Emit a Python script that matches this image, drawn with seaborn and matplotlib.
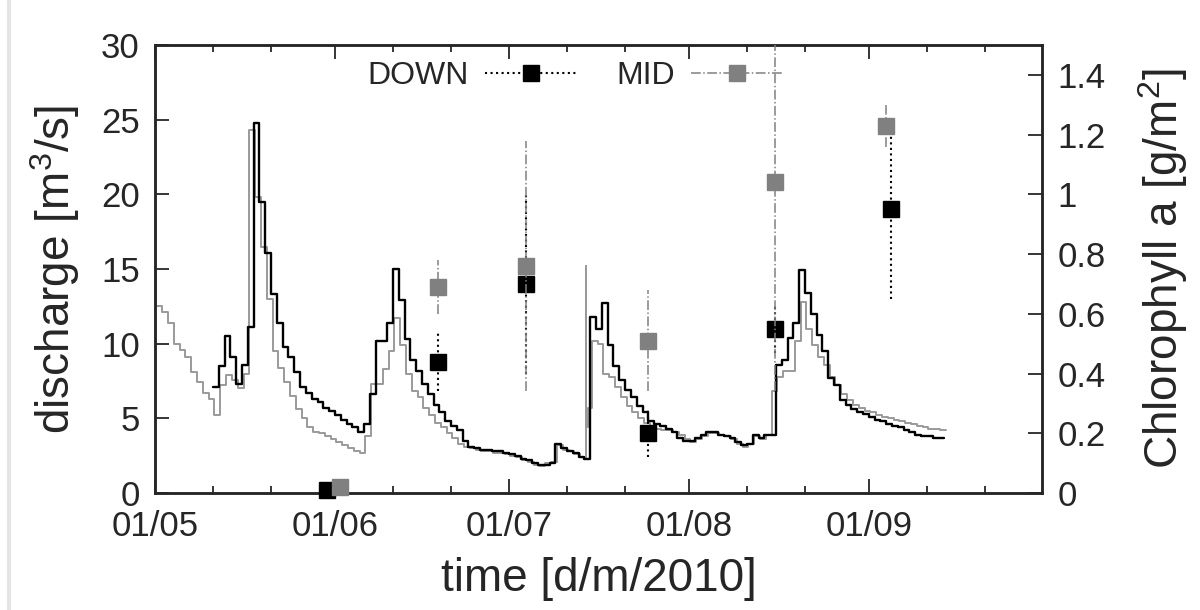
import numpy as np
import pandas as pd
import matplotlib
matplotlib.use('Agg')
import matplotlib.pyplot as plt
import matplotlib.dates as mdates
from matplotlib.lines import Line2D
from matplotlib.ticker import FuncFormatter
import seaborn as sns

start = pd.Timestamp('2010-05-01')

# discharge DOWN (m3/s), one value per day, first day = 11/05
down_first_day = 10
down_q = [7.1, 8.5, 10.5, 9.1, 7.3, 8.6, 11.1, 24.8, 19.5, 16.1,
          13.3, 11.4, 9.8, 9.1, 8.1, 7.1, 6.7, 6.3, 6.1, 5.7,
          5.5, 5.2, 4.9, 4.6, 4.4, 4.1, 4.6, 6.6, 10.2, 10.2,
          11.4, 15.0, 12.9, 10.3, 8.9, 8.2, 7.3, 6.6, 5.9, 5.4,
          4.8, 4.5, 4.2, 3.5, 3.1, 3.0, 2.9, 2.9, 2.8, 2.8,
          2.7, 2.6, 2.5, 2.3, 2.2, 2.0, 1.9, 1.9, 2.0, 3.3,
          3.0, 2.8, 2.7, 2.4, 2.3, 11.8, 11.0, 12.7, 9.9, 8.5,
          7.6, 6.9, 6.4, 5.8, 5.4, 4.8, 4.6, 4.5, 4.3, 4.1,
          3.7, 3.5, 3.5, 3.7, 3.9, 4.1, 4.1, 3.9, 3.8, 3.7,
          3.4, 3.2, 3.3, 3.9, 3.7, 3.9, 3.9, 8.6, 8.9, 10.4,
          11.4, 14.9, 13.4, 12.0, 10.6, 9.5, 7.7, 7.2, 6.2, 5.9,
          5.6, 5.4, 5.3, 5.1, 4.9, 4.8, 4.6, 4.5, 4.4, 4.2,
          4.1, 3.9, 3.8, 3.8, 3.7, 3.7]

# discharge MID (m3/s), one value per day
mid_first_day = 0.25
mid_q = [12.5, 12.1, 11.4, 10.0, 9.6, 9.1, 8.1, 7.4, 6.7, 6.3,
         5.2, 7.2, 7.9, 7.6, 7.0, 8.0, 24.3, 19.8, 16.5, 13.0,
         9.5, 8.4, 7.4, 6.5, 5.6, 5.0, 4.4, 4.1, 4.0, 3.8,
         3.6, 3.4, 3.2, 3.0, 2.8, 2.7, 3.8, 7.3, 7.3, 8.3,
         9.5, 11.7, 9.9, 8.0, 6.8, 6.4, 5.7, 5.2, 4.7, 4.4,
         4.0, 3.7, 3.3, 3.1, 3.0, 2.9, 2.8, 2.8, 2.7, 2.7,
         2.6, 2.5, 2.4, 2.2, 2.1, 1.9, 1.8, 2.0, 2.1, 3.2,
         2.9, 2.8, 2.6, 2.4, 2.3, 10.2, 10.0, 8.0, 7.8, 7.1,
         6.4, 5.8, 5.4, 5.0, 4.7, 4.4, 4.3, 4.2, 4.2, 4.1,
         3.9, 3.6, 3.4, 3.6, 3.8, 4.0, 4.0, 3.9, 3.8, 3.6,
         3.3, 3.1, 3.3, 3.8, 3.6, 3.9, 6.8, 7.8, 8.2, 8.2,
         10.2, 12.8, 11.0, 9.9, 9.1, 8.6, 7.8, 7.2, 6.6, 6.2,
         5.9, 5.7, 5.5, 5.4, 5.2, 5.1, 5.0, 4.9, 4.8, 4.7,
         4.6, 4.5, 4.4, 4.3, 4.3, 4.2]
# short readings of MID between the daily values
mid_spike_day = [0.0, 74.30, 74.34, 74.60]
mid_spike_q = [15.0, 15.2, 4.4, 5.7]

# chlorophyll a (g/m2)
down_chl_day = [29.6, 48.8, 63.9, 84.9, 106.8, 126.9]
down_chl = [0.01, 0.44, 0.70, 0.20, 0.55, 0.95]
down_chl_err = [0.0, 0.10, 0.30, 0.08, 0.08, 0.30]
mid_chl_day = [31.8, 48.8, 63.9, 84.9, 106.8, 125.9]
mid_chl = [0.02, 0.69, 0.76, 0.51, 1.04, 1.23]
mid_chl_err = [0.0, 0.09, 0.42, 0.17, 0.70, 0.07]


def to_time(days):
    return start + pd.to_timedelta(np.asarray(days, dtype=float), unit='D')


# daily series + one closing point so the last step is drawn
down_days = list(down_first_day + np.arange(len(down_q))) + [down_first_day + len(down_q)]
down_df = pd.DataFrame({'t': to_time(down_days), 'q': down_q + [down_q[-1]]})
mid_days = list(mid_first_day + np.arange(len(mid_q))) + [mid_first_day + len(mid_q)]
mid_df = pd.DataFrame({'t': to_time(mid_days + mid_spike_day),
                       'q': mid_q + [mid_q[-1]] + mid_spike_q}).sort_values('t')

sns.set_style('ticks')
plt.rcParams['font.family'] = ['Liberation Sans', 'DejaVu Sans']
plt.rcParams['mathtext.fontset'] = 'custom'
plt.rcParams['mathtext.rm'] = 'Liberation Sans'

fig = plt.figure(figsize=(12, 6.1), dpi=100)
ax = fig.add_axes([155 / 1200, 1 - 493 / 610, 887 / 1200, 448 / 610])

sns.lineplot(data=mid_df, x='t', y='q', ax=ax, color='#9a9a9a', lw=1.4,
             drawstyle='steps-post', estimator=None, sort=False)
sns.lineplot(data=down_df, x='t', y='q', ax=ax, color='black', lw=1.7,
             drawstyle='steps-post', estimator=None, sort=False)

ax.set_xlim(start, pd.Timestamp('2010-09-30 20:00'))
ax.set_ylim(0, 30)
ax.set_yticks(range(0, 31, 5))
ax.xaxis.set_major_locator(mdates.MonthLocator())
ax.xaxis.set_major_formatter(mdates.DateFormatter('%d/%m'))
ax.xaxis.set_minor_locator(mdates.DayLocator(bymonthday=[11, 21]))
ax.tick_params(axis='x', which='major', direction='in', top=True, length=10, width=1.3,
               labelsize=25, pad=12)
ax.tick_params(axis='x', which='minor', direction='in', top=True, length=5, width=1.3)
ax.tick_params(axis='y', direction='in', right=False, length=10, width=1.3,
               labelsize=25, pad=11)
ax.set_xlabel('time [d/m/2010]', fontsize=33, labelpad=10)
ax.set_ylabel(r'discharge [m$^\mathregular{3}$/s]', fontsize=33, labelpad=14)
for s in ax.spines.values():
    s.set_linewidth(1.8)

ax2 = ax.twinx()
eb_down = ax2.errorbar(to_time(down_chl_day), down_chl, yerr=down_chl_err, fmt='s',
                       color='black', ms=12, elinewidth=1.5, capsize=0, zorder=3)
eb_down[2][0].set_linestyle(':')
eb_mid = ax2.errorbar(to_time(mid_chl_day), mid_chl, yerr=mid_chl_err, fmt='s',
                      color='#808080', ms=12, elinewidth=1.1, capsize=0, zorder=4)
eb_mid[2][0].set_linestyle('-.')
eb_down[0].set_clip_on(False)
eb_mid[0].set_clip_on(False)

ax2.set_ylim(0, 1.5)
ax2.set_yticks(np.arange(0, 1.41, 0.2))
ax2.yaxis.set_major_formatter(FuncFormatter(lambda v, p: '%g' % round(v, 1)))
ax2.tick_params(axis='y', direction='in', length=10, width=1.3, labelsize=25, pad=11)
ax2.set_ylabel(r'Chlorophyll a [g/m$^\mathregular{2}$]', fontsize=33, labelpad=22)
for s in ax2.spines.values():
    s.set_linewidth(1.8)

handles = [Line2D([], [], color='black', ls=':', lw=1.5, marker='s', ms=12),
           Line2D([], [], color='#808080', ls='-.', lw=1.1, marker='s', ms=12)]
ax2.legend(handles, ['DOWN', 'MID'], ncol=2, markerfirst=False, frameon=False,
           loc='center', bbox_to_anchor=(0.474, 0.93), fontsize=23,
           handlelength=2.9, columnspacing=1.2, handletextpad=0.5)

# pale scan edge on the left of the page
fig.add_artist(Line2D([9 / 1200, 9 / 1200], [0, 1], color='#e4e4e4', lw=3,
                      transform=fig.transFigure))

fig.savefig('out.png', dpi=100)
